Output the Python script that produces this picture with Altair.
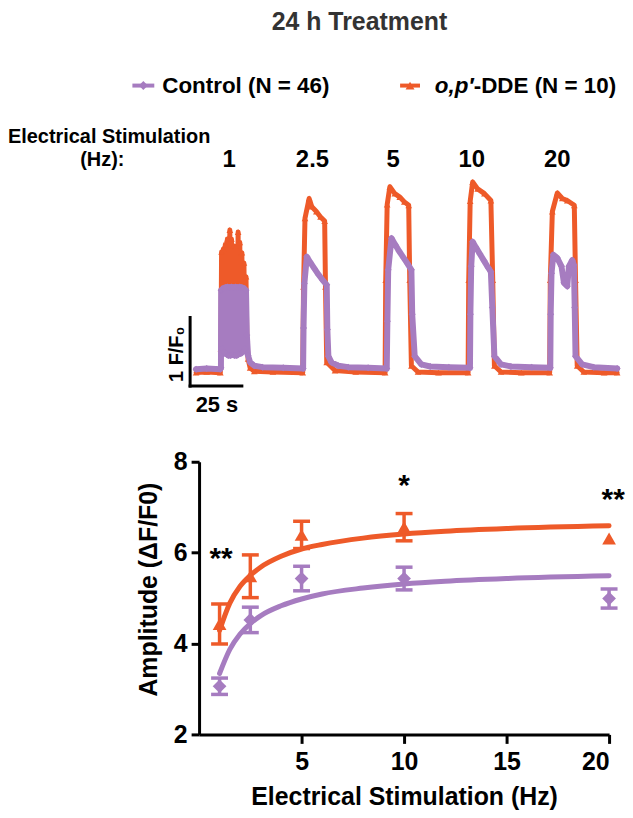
import altair as alt
import pandas as pd

FONT = "Liberation Sans"
PURPLE = "#A67CC0"
ORANGE = "#EE5A29"
CTRL = "Control (N = 46)"
DDE = "o,p′-DDE (N = 10)"

# ---------------- bottom panel: amplitude vs frequency ----------------
freq_hz = [1, 2.5, 5, 10, 20]
ctrl_mean = [3.06, 4.52, 5.43, 5.43, 4.99]
ctrl_sem = [0.18, 0.28, 0.27, 0.25, 0.21]
dde_mean = [4.43, 5.48, 6.39, 6.56, 6.31]
dde_sem = [0.44, 0.47, 0.30, 0.30, 0.0]

fit_hz = [1, 1.5, 2, 2.5, 3, 4, 5, 6, 8, 10, 12, 15, 20]
ctrl_fit = [3.34, 3.87, 4.21, 4.44, 4.61, 4.83, 4.98, 5.09, 5.22, 5.31, 5.37, 5.43, 5.49]
dde_fit = [4.29, 4.89, 5.26, 5.50, 5.68, 5.92, 6.08, 6.18, 6.32, 6.41, 6.47, 6.53, 6.59]

sig_hz = [1.07, 10.0, 20.2]
sig_level = [6.03, 7.64, 7.33]
sig_label = ["**", "*", "**"]

# ---------------- top panel: representative traces (time s, F/F0) ----------------
ctrl_trace = [
    (2.9, 0.0), (8.0, 0.01), (14.6, 0.0), (14.9, 0.02), (15.0, 1.15), (15.5, 0.30), (16.0, 1.18),
    (16.5, 0.25), (17.0, 1.19), (17.5, 0.22), (18.0, 1.20), (18.5, 0.20), (19.0, 1.19), (19.5, 0.20),
    (20.0, 1.20), (20.5, 0.21), (21.0, 1.19), (21.5, 0.20), (22.0, 1.20), (22.5, 0.20), (23.0, 1.19),
    (23.5, 0.22), (24.0, 1.20), (24.5, 0.23), (25.0, 1.19), (25.5, 0.25), (26.0, 1.18), (26.5, 0.30),
    (27.0, 1.15), (27.4, 0.50), (28.0, 0.20), (29.0, 0.10), (31.0, 0.05), (35.0, 0.03), (45.0, 0.02),
    (54.6, 0.01), (54.8, 0.60), (55.2, 1.25), (56.4, 1.64), (58.0, 1.56), (60.0, 1.47), (62.0, 1.38),
    (64.0, 1.30), (66.0, 1.23), (66.3, 0.58), (66.8, 0.19), (68.3, 0.10), (71.6, 0.05), (76.4, 0.03),
    (86.0, 0.02), (95.0, 0.01), (95.3, 0.70), (95.7, 1.45), (97.3, 1.91), (99.0, 1.82), (101.0, 1.72),
    (103.0, 1.63), (105.0, 1.54), (106.9, 1.45), (107.3, 0.80), (108.5, 0.19), (111.7, 0.07),
    (116.0, 0.04), (125.0, 0.03), (135.2, 0.02), (135.4, 0.80), (135.8, 1.50), (136.5, 1.86),
    (138.0, 1.78), (140.0, 1.68), (142.0, 1.58), (144.0, 1.48), (145.3, 1.42), (146.0, 0.90),
    (147.0, 0.19), (150.2, 0.07), (155.0, 0.04), (165.0, 0.03), (174.0, 0.02), (174.2, 0.80),
    (174.6, 1.40), (175.5, 1.67), (177.4, 1.62), (179.4, 1.50), (180.6, 1.26), (182.2, 1.21),
    (183.0, 1.50), (184.6, 1.59), (185.4, 1.52), (185.8, 0.90), (186.2, 0.19), (189.4, 0.07),
    (195.0, 0.03), (206.3, 0.01),
]
dde_trace = [
    (2.9, -0.05), (8.0, -0.04), (14.6, -0.05), (14.9, 0.30), (15.2, 1.71), (15.5, 0.35), (16.0, 1.75),
    (16.5, 0.30), (17.0, 1.82), (17.5, 0.30), (18.0, 1.90), (18.5, 0.30), (19.2, 2.03), (19.5, 0.30),
    (20.0, 1.90), (20.5, 0.30), (21.0, 1.80), (21.5, 0.30), (22.0, 1.78), (22.5, 0.30), (23.2, 2.00),
    (23.5, 0.30), (24.0, 1.85), (24.5, 0.30), (25.0, 1.70), (25.5, 0.30), (26.0, 1.55), (26.5, 0.35),
    (27.0, 1.35), (27.4, 0.45), (28.0, 0.15), (29.0, 0.02), (31.0, -0.03), (40.0, -0.04), (54.4, -0.05),
    (54.8, 1.20), (55.5, 2.20), (57.5, 2.49), (58.8, 2.37), (61.0, 2.30), (63.0, 2.22), (65.0, 2.16),
    (65.4, 1.20), (66.0, 0.10), (70.0, -0.02), (80.0, -0.04), (94.2, -0.05),
    (94.5, 1.30), (95.2, 2.40), (96.5, 2.66), (98.9, 2.56), (101.3, 2.51), (103.5, 2.44), (105.6, 2.39),
    (106.1, 1.30), (106.9, 0.05), (110.1, -0.04), (120.0, -0.05), (134.3, -0.05),
    (134.6, 1.30), (135.3, 2.45), (136.5, 2.73), (138.9, 2.63), (142.2, 2.56), (145.3, 2.46),
    (146.2, 1.30), (147.0, 0.05), (150.2, -0.04), (160.0, -0.05), (173.7, -0.05),
    (174.0, 1.30), (175.0, 2.30), (177.4, 2.57), (179.8, 2.49), (182.2, 2.46), (185.6, 2.39),
    (186.2, 1.30), (187.0, 0.05), (190.2, -0.04), (200.0, -0.05), (206.3, -0.05),
]

stim_labels = ["1", "2.5", "5", "10", "20"]
stim_label_t = [18.8, 59.1, 98.1, 136.1, 177.4]

scalebar_seconds = 25
scalebar_ff0 = 1
scalebar_origin_t = 0.0
scalebar_origin_v = -0.246

# ---------------- tables ----------------
rows = []
for name, pts in ((DDE, dde_trace), (CTRL, ctrl_trace)):
    for i, (t, v) in enumerate(pts):
        rows.append({"series": name, "t": t, "v": v, "i": i})
trace_df = pd.DataFrame(rows)

scalebar_df = pd.DataFrame({
    "t0": [scalebar_origin_t, scalebar_origin_t],
    "t1": [scalebar_origin_t + scalebar_seconds, scalebar_origin_t],
    "v0": [scalebar_origin_v, scalebar_origin_v],
    "v1": [scalebar_origin_v, scalebar_origin_v + scalebar_ff0],
})
stim_df = pd.DataFrame({"t": stim_label_t, "label": stim_labels})

summary_df = pd.DataFrame({
    "series": [CTRL] * len(freq_hz) + [DDE] * len(freq_hz),
    "hz": freq_hz + freq_hz,
    "mean": ctrl_mean + dde_mean,
    "sem": ctrl_sem + dde_sem,
})
fit_df = pd.DataFrame({
    "series": [CTRL] * len(fit_hz) + [DDE] * len(fit_hz),
    "hz": fit_hz + fit_hz,
    "amp": ctrl_fit + dde_fit,
})
sig_df = pd.DataFrame({"hz": sig_hz, "level": sig_level, "label": sig_label})
one = pd.DataFrame({"k": [0]})

color_scale = alt.Scale(domain=[CTRL, DDE], range=[PURPLE, ORANGE])
shape_scale = alt.Scale(domain=[CTRL, DDE], range=["diamond", "triangle-up"])
COLOR = alt.Color("series:N", scale=color_scale, legend=None)
SHAPE = alt.Shape("series:N", scale=shape_scale, legend=None)

# ---------------- top panel ----------------
W_TOP, H_TOP = 420, 215
tx = alt.Scale(domain=[4.33, 206.25], nice=False, zero=False)
ty = alt.Scale(domain=[-0.29, 2.83], nice=False, zero=False)
TX = alt.X("t:Q", scale=tx, axis=None)
TY = alt.Y("v:Q", scale=ty, axis=None)


def trace_layers(name, stroke, size):
    base = alt.Chart(trace_df).transform_filter(alt.datum.series == name)
    line = base.mark_line(strokeWidth=stroke, strokeJoin="round", strokeCap="round").encode(
        x=TX, y=TY, order="i:Q", color=COLOR)
    pts = base.mark_point(filled=True, size=size, opacity=1).encode(
        x=TX, y=TY, color=COLOR, shape=SHAPE)
    return [line, pts]


bars = alt.Chart(scalebar_df).mark_rule(strokeWidth=3, color="black", strokeCap="square").encode(
    x=alt.X("t0:Q", scale=tx, axis=None), x2="t1:Q",
    y=alt.Y("v0:Q", scale=ty, axis=None), y2="v1:Q")

txt = dict(font=FONT, fontWeight="bold", color="black")
stim = alt.Chart(stim_df).mark_text(fontSize=24, baseline="middle", align="center", **txt).encode(
    x=alt.X("t:Q", scale=tx, axis=None), y=alt.value(-15), text="label:N")

ann = alt.Chart(one)
es1 = ann.mark_text(text="Electrical Stimulation", fontSize=20, align="left", baseline="middle", **txt).encode(
    x=alt.value(-192), y=alt.value(-38))
es2 = ann.mark_text(text="(Hz):", fontSize=20, align="right", baseline="middle", **txt).encode(
    x=alt.value(-75), y=alt.value(-15))
sb_v = ann.mark_text(text="1 F/F\u2080", fontSize=20, angle=270, align="center", baseline="middle", **txt).encode(
    x=alt.value(-22), y=alt.value(180))
sb_t = ann.mark_text(text="25 s", fontSize=22, align="center", baseline="middle", **txt).encode(
    x=alt.value(18), y=alt.value(231))

# legend (custom, to keep the italic part of the compound name)
leg_y = -90
leg = [
    ann.mark_rule(color=PURPLE, strokeWidth=4).encode(x=alt.value(-67), x2=alt.value(-45), y=alt.value(leg_y)),
    ann.mark_point(shape="diamond", filled=True, size=80, color=PURPLE, opacity=1).encode(
        x=alt.value(-56), y=alt.value(leg_y)),
    ann.mark_text(text=CTRL, fontSize=22.5, align="left", baseline="middle", **txt).encode(
        x=alt.value(-37), y=alt.value(leg_y)),
    ann.mark_rule(color=ORANGE, strokeWidth=4).encode(x=alt.value(202), x2=alt.value(222), y=alt.value(leg_y)),
    ann.mark_point(shape="triangle-up", filled=True, size=80, color=ORANGE, opacity=1).encode(
        x=alt.value(212), y=alt.value(leg_y)),
    ann.mark_text(text="o,p′", fontSize=22.5, fontStyle="italic", align="right", baseline="middle", **txt).encode(
        x=alt.value(276), y=alt.value(leg_y)),
    ann.mark_text(text="-DDE (N = 10)", fontSize=22.5, align="left", baseline="middle", **txt).encode(
        x=alt.value(276), y=alt.value(leg_y)),
]

top = alt.layer(
    *trace_layers(DDE, 5, 45), *trace_layers(CTRL, 6, 50), bars, stim, es1, es2, sb_v, sb_t, *leg
).properties(width=W_TOP, height=H_TOP)

# ---------------- bottom panel ----------------
W_BOT, H_BOT = 412, 274
ax_common = dict(
    domainWidth=3, domainColor="black", tickWidth=3, tickColor="black", grid=False,
    labelFont=FONT, labelFontSize=25, labelFontWeight="bold", labelColor="black",
    titleFont=FONT, titleFontSize=25, titleFontWeight="bold", titleColor="black",
)
x_axis = alt.Axis(values=[5, 10, 15, 20], title="Electrical Stimulation (Hz)", tickSize=9,
                  labelPadding=6, titlePadding=10, **ax_common)
y_axis = alt.Axis(values=[2, 4, 6, 8], title="Amplitude (ΔF/F0)", tickSize=8,
                  labelPadding=4, titlePadding=12, titleY=128, **ax_common)
xs = alt.Scale(domain=[0, 20], nice=False)
ys = alt.Scale(domain=[2, 8], nice=False, zero=False)


def BX(f):
    return alt.X(f, scale=xs, axis=x_axis)


def BY(f):
    return alt.Y(f, scale=ys, axis=y_axis)


curves = alt.Chart(fit_df).mark_line(strokeWidth=5, interpolate="monotone", strokeCap="round").encode(
    x=BX("hz:Q"), y=BY("amp:Q"), color=COLOR, detail="series:N")

err_base = alt.Chart(summary_df).transform_filter(alt.datum.sem > 0).transform_calculate(
    lo="datum.mean - datum.sem", hi="datum.mean + datum.sem")
err_rule = err_base.mark_rule(strokeWidth=3.5).encode(x=BX("hz:Q"), y=BY("lo:Q"), y2="hi:Q", color=COLOR)
cap_lo = err_base.mark_tick(orient="horizontal", size=17, thickness=3.5, opacity=1).encode(
    x=BX("hz:Q"), y=BY("lo:Q"), color=COLOR)
cap_hi = err_base.mark_tick(orient="horizontal", size=17, thickness=3.5, opacity=1).encode(
    x=BX("hz:Q"), y=BY("hi:Q"), color=COLOR)
pts = alt.Chart(summary_df).mark_point(filled=True, size=190, opacity=1).encode(
    x=BX("hz:Q"), y=BY("mean:Q"), color=COLOR, shape=SHAPE)
stars = alt.Chart(sig_df).mark_text(fontSize=30, baseline="alphabetic", align="center", dy=17, **txt).encode(
    x=BX("hz:Q"), y=BY("level:Q"), text="label:N")

bottom = alt.layer(curves, err_rule, cap_lo, cap_hi, pts, stars).properties(width=W_BOT, height=H_BOT)

chart = alt.vconcat(top, bottom, spacing=73, bounds="flush").properties(
    padding=0,
    title=alt.TitleParams("24 h Treatment", font=FONT, fontSize=25, fontWeight="bold", color="#333333",
                          anchor="start", frame="bounds", dx=265, offset=40),
).configure_view(stroke=None)

chart.save("out.html", embed_options={"renderer": "svg", "actions": False})
